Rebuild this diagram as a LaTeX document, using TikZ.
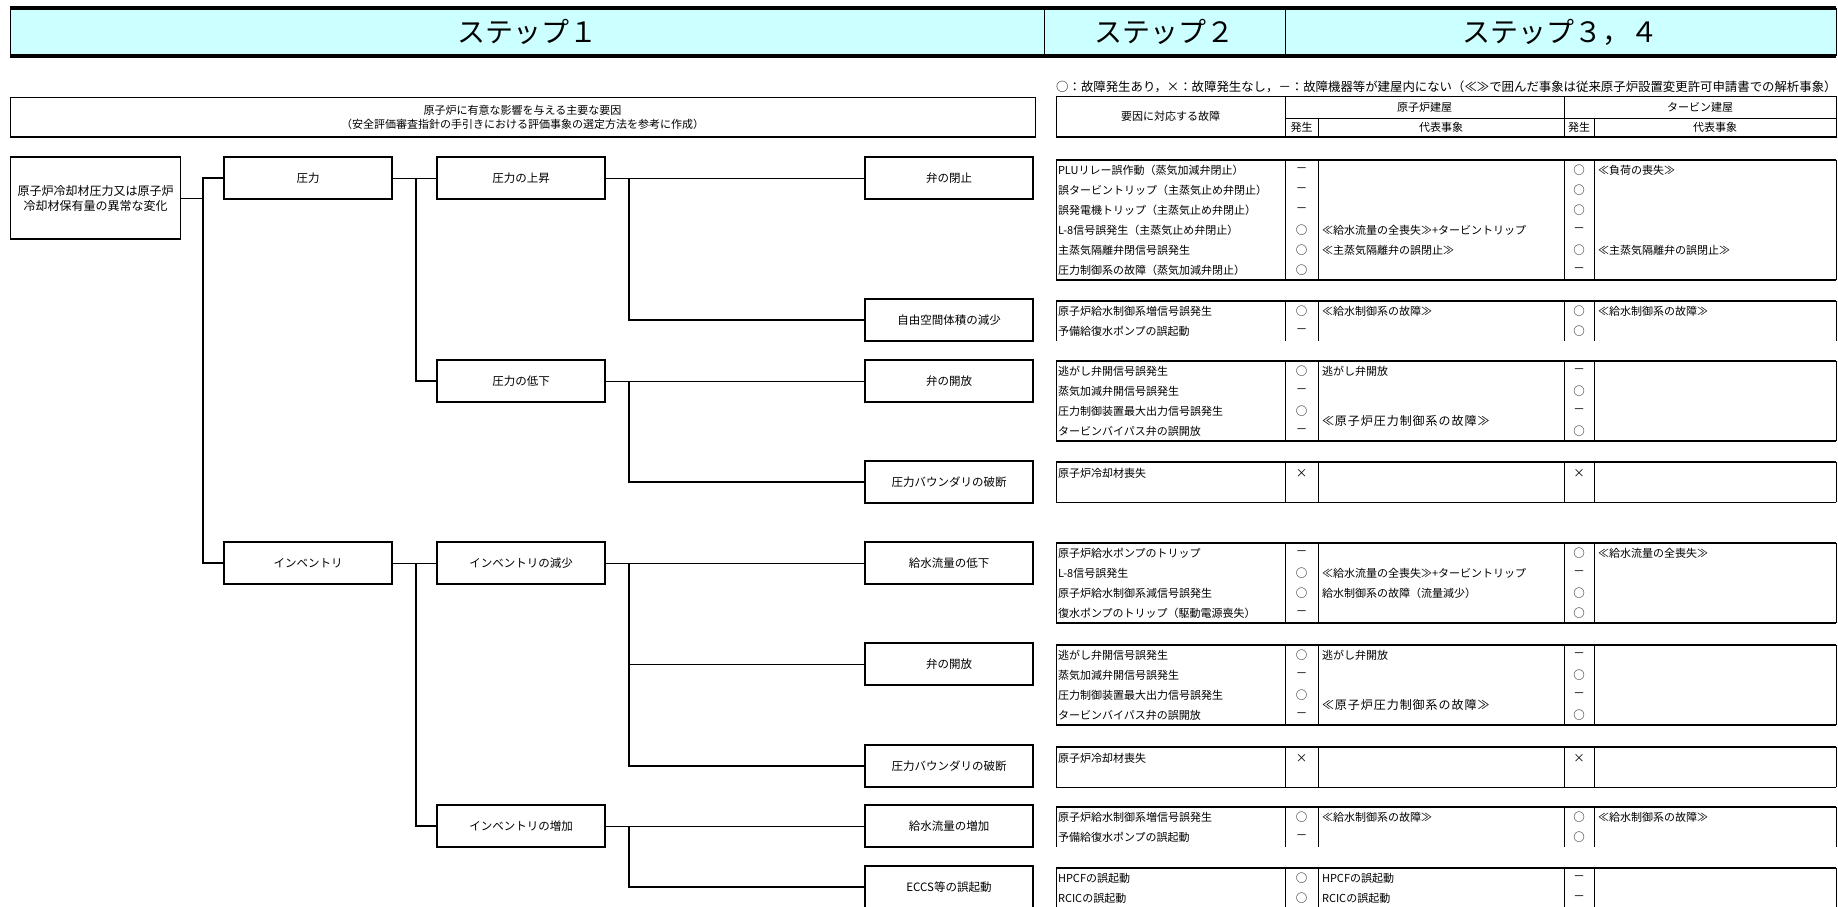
\documentclass[tikz,border=0pt]{standalone}
\usepackage{fontspec}
\setmainfont{Noto Sans CJK JP}
\newcommand\jpsize[2]{\fontsize{#1}{#2}\selectfont}
\definecolor{stepcyan}{RGB}{204,255,255}
\tikzset{
  tree/.style={anchor=north west, outer sep=0, inner sep=0, draw, line width=1.1pt, minimum width=168pt, minimum height=42pt, align=center, font=\jpsize{11.5pt}{15pt}},
  stepbox/.style={anchor=north west, outer sep=0, inner sep=0, fill=stepcyan, minimum height=48pt, font=\jpsize{28pt}{30pt}},
  hdcell/.style={anchor=north west, outer sep=0, inner sep=0, draw, line width=0.8pt, align=center, font=\jpsize{11pt}{14pt}},
  lnk/.style={line width=0.9pt},
  bus/.style={line width=1.6pt},
  cell/.style={anchor=west, outer sep=0, inner sep=0, font=\jpsize{11pt}{13pt}},
  sym/.style={anchor=center, outer sep=0, inner sep=0, font=\jpsize{11.5pt}{13pt}},
  btm-thk/.style={line width=1.8pt},
  btm-thn/.style={line width=0.6pt},
  btm-none/.style={draw=none}
}
\begin{document}
\begin{tikzpicture}[x=1pt, y=-1pt]
  \useasboundingbox (0,0) rectangle (1838,906);

  \node[stepbox, minimum width=1034pt] (st-1) at (10,8) {ステップ１};
  \node[stepbox, minimum width=241pt] (st-2) at (st-1.north east) {ステップ２};
  \node[stepbox, minimum width=551pt] (st-34) at (st-2.north east) {ステップ３，４};
  \draw[line width=3.5pt] (st-1.north west) -- (st-34.north east);
  \draw[line width=3.5pt] (st-1.south west) -- (st-34.south east);
  \draw[line width=0.8pt] (st-1.north west) -- (st-1.south west);
  \draw[line width=0.8pt] (st-1.north east) -- (st-1.south east);
  \draw[line width=0.8pt] (st-2.north east) -- (st-2.south east);
  \draw[line width=0.8pt] (st-34.north east) -- (st-34.south east);

  \node[anchor=west, inner sep=0, font=\jpsize{12.4pt}{13pt}] (legend) at (1056,87) {○：故障発生あり，×：故障発生なし，－：故障機器等が建屋内にない（≪≫で囲んだ事象は従来原子炉設置変更許可申請書での解析事象）};

  \node[hdcell, minimum width=1025pt, minimum height=40pt] (h-fac) at (10,97) {原子炉に有意な影響を与える主要な要因\\（安全評価審査指針の手引きにおける評価事象の選定方法を参考に作成）};
  \draw[line width=2pt] (h-fac.south west) -- (h-fac.south east);

  \node[hdcell, minimum width=229pt, minimum height=41pt] (h-cause) at (1056,96) {要因に対応する故障};
  \node[hdcell, minimum width=279pt, minimum height=22pt] (h-rb) at (h-cause.north east) {原子炉建屋};
  \node[hdcell, minimum width=272pt, minimum height=22pt] (h-tb) at (h-rb.north east) {タービン建屋};
  \node[hdcell, minimum width=33pt, minimum height=19pt] (h-rb-occ) at (h-rb.south west) {発生};
  \node[hdcell, minimum width=246pt, minimum height=19pt] (h-rb-ev) at (h-rb-occ.north east) {代表事象};
  \node[hdcell, minimum width=30pt, minimum height=19pt] (h-tb-occ) at (h-tb.south west) {発生};
  \node[hdcell, minimum width=242pt, minimum height=19pt] (h-tb-ev) at (h-tb-occ.north east) {代表事象};
  \draw[line width=2pt] (h-cause.south west) -- (h-tb-ev.south east);

  \node[tree, minimum width=170pt, minimum height=82pt, font=\jpsize{12pt}{15pt}] (root) at (10.5,157) {原子炉冷却材圧力又は原子炉\\冷却材保有量の異常な変化};
  \node[tree] (p) at (224,157) {圧力};
  \node[tree] (inv) at (224,542) {インベントリ};
  \node[tree] (p-up) at (437,157) {圧力の上昇};
  \node[tree] (p-down) at (437,360) {圧力の低下};
  \node[tree] (inv-dec) at (437,542) {インベントリの減少};
  \node[tree] (inv-inc) at (437,805) {インベントリの増加};
  \node[tree] (v-close) at (865,157) {弁の閉止};
  \node[tree] (free-vol) at (865,299) {自由空間体積の減少};
  \node[tree] (v-open) at (865,360) {弁の開放};
  \node[tree] (brk) at (865,461) {圧力バウンダリの破断};
  \node[tree] (fw-low) at (865,542) {給水流量の低下};
  \node[tree] (v-open-2) at (865,643) {弁の開放};
  \node[tree] (brk-2) at (865,745) {圧力バウンダリの破断};
  \node[tree] (fw-up) at (865,805) {給水流量の増加};
  \node[tree] (eccs) at (865,866) {ECCS等の誤起動};

  \coordinate (bus-a) at (203,198);
  \coordinate (bus-b) at (416,0);
  \coordinate (bus-c) at (629,0);

  \draw[lnk] (root.east) -- (bus-a);
  \draw[bus] (p.west) -| (bus-a |- inv.west) -- (inv.west);
  \draw[lnk] (p.east) -- (p-up.west);
  \draw[bus] (bus-b |- p-up.west) |- (p-down.west);
  \draw[lnk] (inv.east) -- (inv-dec.west);
  \draw[bus] (bus-b |- inv-dec.west) |- (inv-inc.west);
  \draw[lnk] (p-up.east) -- (v-close.west);
  \draw[bus] (bus-c |- v-close.west) |- (free-vol.west);
  \draw[lnk] (p-down.east) -- (v-open.west);
  \draw[bus] (bus-c |- v-open.west) |- (brk.west);
  \draw[lnk] (inv-dec.east) -- (fw-low.west);
  \draw[bus] (bus-c |- fw-low.west) |- (brk-2.west);
  \draw[lnk] (bus-c |- v-open-2.west) -- (v-open-2.west);
  \draw[lnk] (inv-inc.east) -- (fw-up.west);
  \draw[bus] (bus-c |- fw-up.west) |- (eccs.west);

  \foreach \top/\bot/\bs in {160/280/btm-thk, 301/341/btm-none, 361/441/btm-thk, 462/502/btm-thn, 543/623/btm-thk, 645/725/btm-thk, 747/787/btm-thn, 807/847/btm-none, 868/908/btm-none}{
    \draw[line width=1.8pt] (1056,\top) -- (1836,\top);
    \foreach \x in {1056,1285,1318,1564,1594,1836}
      \draw[line width=0.9pt] (\x,\top) -- (\x,\bot);
    \draw[\bs] (1056,\bot) -- (1836,\bot);
  }

  \foreach \y/\f/\ra/\ea/\ta/\eb [count=\i] in {
    170/{PLUリレー誤作動（蒸気加減弁閉止）}/－/{}/○/≪負荷の喪失≫,
    190/{誤タービントリップ（主蒸気止め弁閉止）}/－/{}/○/{},
    210/{誤発電機トリップ（主蒸気止め弁閉止）}/－/{}/○/{},
    230/{L-8信号誤発生（主蒸気止め弁閉止）}/○/{≪給水流量の全喪失≫+タービントリップ}/－/{},
    250/{主蒸気隔離弁閉信号誤発生}/○/≪主蒸気隔離弁の誤閉止≫/○/≪主蒸気隔離弁の誤閉止≫,
    270/{圧力制御系の故障（蒸気加減弁閉止）}/○/{}/－/{},
    311/{原子炉給水制御系増信号誤発生}/○/≪給水制御系の故障≫/○/≪給水制御系の故障≫,
    331/{予備給復水ポンプの誤起動}/－/{}/○/{},
    371/{逃がし弁開信号誤発生}/○/逃がし弁開放/－/{},
    391/{蒸気加減弁開信号誤発生}/－/{}/○/{},
    411/{圧力制御装置最大出力信号誤発生}/○/{}/－/{},
    431/{タービンバイパス弁の誤開放}/－/{}/○/{},
    473/{原子炉冷却材喪失}/×/{}/×/{},
    553/{原子炉給水ポンプのトリップ}/－/{}/○/≪給水流量の全喪失≫,
    573/{L-8信号誤発生}/○/{≪給水流量の全喪失≫+タービントリップ}/－/{},
    593/{原子炉給水制御系減信号誤発生}/○/{給水制御系の故障（流量減少）}/○/{},
    613/{復水ポンプのトリップ（駆動電源喪失）}/－/{}/○/{},
    655/{逃がし弁開信号誤発生}/○/逃がし弁開放/－/{},
    675/{蒸気加減弁開信号誤発生}/－/{}/○/{},
    695/{圧力制御装置最大出力信号誤発生}/○/{}/－/{},
    715/{タービンバイパス弁の誤開放}/－/{}/○/{},
    758/{原子炉冷却材喪失}/×/{}/×/{},
    817/{原子炉給水制御系増信号誤発生}/○/≪給水制御系の故障≫/○/≪給水制御系の故障≫,
    837/{予備給復水ポンプの誤起動}/－/{}/○/{},
    878/{HPCFの誤起動}/○/HPCFの誤起動/－/{},
    898/{RCICの誤起動}/○/RCICの誤起動/－/{}}{
    \node[cell] (r-\i) at (1058,\y) {\f};
    \node[sym] (r-\i-ro) at (1301.5,\y) {\ra};
    \node[cell] (r-\i-re) at (1322,\y) {\ea};
    \node[sym] (r-\i-to) at (1579,\y) {\ta};
    \node[cell] (r-\i-te) at (1598,\y) {\eb};
  }
  \node[cell, font=\jpsize{12pt}{13pt}\addfontfeatures{LetterSpace=8}] (pc-fail) at (1322,421) {≪原子炉圧力制御系の故障≫};
  \node[cell, font=\jpsize{12pt}{13pt}\addfontfeatures{LetterSpace=8}] (pc-fail-2) at (1322,705) {≪原子炉圧力制御系の故障≫};
\end{tikzpicture}
\end{document}
